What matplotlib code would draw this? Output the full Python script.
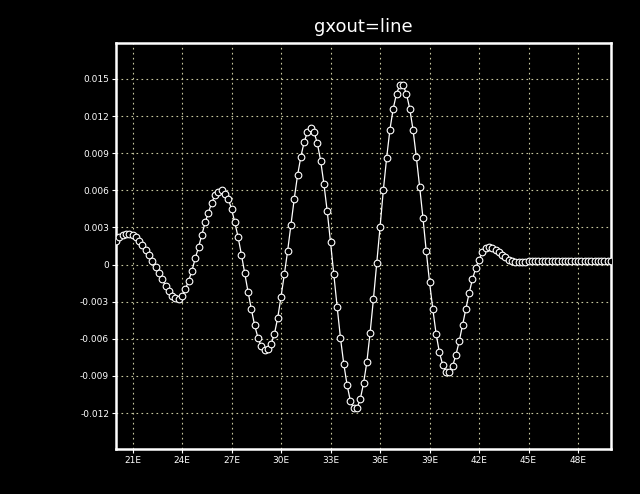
import numpy as np
import matplotlib.pyplot as plt

# longitude grid (0.2 deg) and values
lon = np.round(np.arange(20.0, 50.0001, 0.2), 1)
val = [
    0.0019, 0.0022, 0.0024, 0.0025, 0.0025, 0.0024, 0.0022, 0.0019, 0.0016, 0.0012,
    0.0008, 0.0003, -0.0002, -0.0007, -0.0012, -0.0017, -0.0021, -0.0025, -0.0027, -0.0028,
    -0.0025, -0.0020, -0.0013, -0.0005, 0.0005, 0.0014, 0.0024, 0.0034, 0.0042, 0.0050,
    0.0056, 0.0059, 0.0060, 0.0057, 0.0053, 0.0045, 0.0034, 0.0022, 0.0008, -0.0007,
    -0.0022, -0.0036, -0.0049, -0.0059, -0.0066, -0.0069, -0.0068, -0.0064, -0.0056, -0.0043,
    -0.0026, -0.0008, 0.0011, 0.0032, 0.0053, 0.0072, 0.0087, 0.0099, 0.0107, 0.0110,
    0.0107, 0.0098, 0.0084, 0.0065, 0.0043, 0.0018, -0.0008, -0.0034, -0.0059, -0.0080,
    -0.0097, -0.0110, -0.0116, -0.0116, -0.0109, -0.0096, -0.0079, -0.0055, -0.0028, 0.0001,
    0.0030, 0.0060, 0.0086, 0.0109, 0.0126, 0.0138, 0.0145, 0.0145, 0.0138, 0.0126,
    0.0109, 0.0087, 0.0063, 0.0038, 0.0011, -0.0014, -0.0036, -0.0056, -0.0071, -0.0081,
    -0.0087, -0.0087, -0.0082, -0.0073, -0.0062, -0.0049, -0.0036, -0.0023, -0.0012, -0.0003,
    0.0004, 0.0010, 0.0013, 0.0014, 0.0013, 0.0012, 0.0010, 0.0008, 0.0006, 0.0004,
    0.0003, 0.0002, 0.0002, 0.0002, 0.0002, 0.0003, 0.0003, 0.0003, 0.0003, 0.0003,
    0.0003, 0.0003, 0.0003, 0.0003, 0.0003, 0.0003, 0.0003, 0.0003, 0.0003, 0.0003,
    0.0003, 0.0003, 0.0003, 0.0003, 0.0003, 0.0003, 0.0003, 0.0003, 0.0003, 0.0003,
    0.0003,
]

xticks = [21, 24, 27, 30, 33, 36, 39, 42, 45, 48]
xlabels = ['21E', '24E', '27E', '30E', '33E', '36E', '39E', '42E', '45E', '48E']
yticks = [-0.012, -0.009, -0.006, -0.003, 0, 0.003, 0.006, 0.009, 0.012, 0.015]
ylabels = ['-0.012', '-0.009', '-0.006', '-0.003', '0', '0.003', '0.006', '0.009', '0.012', '0.015']

fig = plt.figure(figsize=(6.4, 4.94), dpi=100, facecolor='black')
ax = fig.add_axes([0.1813, 0.0911, 0.7734, 0.8219], facecolor='black')

ax.plot(lon, val, c='white', lw=0.9, marker='o', ms=4.8,
        mfc='black', mec='white', mew=0.8, zorder=3)

ax.set_xlim(20, 50)
ax.set_ylim(-0.0149, 0.0179)
ax.set_xticks(xticks)
ax.set_xticklabels(xlabels)
ax.set_yticks(yticks)
ax.set_yticklabels(ylabels)
ax.tick_params(colors='white', labelsize=6.5, length=3, width=0.8, pad=2)
ax.grid(True, color='#c8c8a0', lw=0.8, linestyle=(0, (1.5, 3)))
for s in ax.spines.values():
    s.set_color('white')
    s.set_linewidth(1.8)

ax.set_title('gxout=line', color='white', fontsize=13, pad=8)

fig.savefig('out.png', dpi=100, facecolor='black')
